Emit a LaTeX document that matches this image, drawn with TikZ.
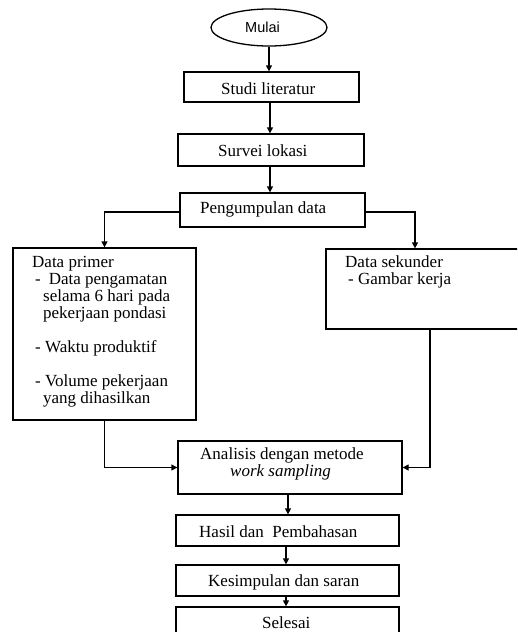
\documentclass[tikz,border=0pt]{standalone}
\usepackage{fontspec}
\setmainfont{Liberation Serif}
\newfontfamily\arialfont{Liberation Sans}
\usetikzlibrary{arrows.meta,shapes.geometric}
\begin{document}
\begin{tikzpicture}[x=1pt,y=-1pt,
  box/.style={draw,line width=1.3pt,rectangle,inner sep=0pt},
  conn/.style={line width=1.3pt,-{Triangle[length=6pt,width=6pt]}},
  txt/.style={inner sep=0pt,font=\fontsize{17}{17}\selectfont,anchor=base west},
  blk/.style={inner sep=0pt,font=\fontsize{17}{17}\selectfont,align=left,anchor=north west}]
\useasboundingbox (0,0) rectangle (517,632);
\clip (0,0) rectangle (517,632);
\fill[white] (0,0) rectangle (517,632);
% boxes
\node[draw,line width=1.3pt,ellipse,inner sep=0pt,minimum width=116pt,minimum height=37pt] (mulai) at (269,27.5) {};
\node[box,minimum width=175pt,minimum height=30pt] (studi) at (271.5,87) {};
\node[box,minimum width=186pt,minimum height=32pt] (survei) at (271,150) {};
\node[box,minimum width=185pt,minimum height=34pt] (peng) at (272.5,210) {};
\node[box,minimum width=183pt,minimum height=172pt] (primer) at (104.5,334) {};
\node[box,minimum width=204pt,minimum height=80pt] (sekunder) at (428,289) {};
\node[box,minimum width=224pt,minimum height=53pt] (analisis) at (290,467.5) {};
\node[box,minimum width=223pt,minimum height=31pt] (hasil) at (287.5,530.5) {};
\node[box,minimum width=223pt,minimum height=31pt] (kesim) at (287.5,580.5) {};
\node[box,minimum width=223pt,minimum height=43pt] (selesai) at (287.5,628.5) {};
% texts
\node[inner sep=0pt,font=\arialfont\fontsize{14.5}{14.5}\selectfont,anchor=base west] (tmulai) at (245,32) {Mulai};
\node[txt] (tstudi) at (221,94) {Studi literatur};
\node[txt] (tsurvei) at (218,156) {Survei lokasi};
\node[txt] (tpeng) at (200,213) {Pengumpulan data};
\node[blk] (tprimer) at (32,256.5) {Data primer\\
\hspace*{3pt}-\hspace*{8pt}Data pengamatan\\
\hspace*{11pt}selama 6 hari pada\\
\hspace*{11pt}pekerjaan pondasi\\[17pt]
\hspace*{3pt}- Waktu produktif\\[17pt]
\hspace*{3pt}- Volume pekerjaan\\
\hspace*{11pt}yang dihasilkan};
\node[blk] (tsekunder) at (345,255.5) {Data sekunder\\
\hspace*{3pt}- Gambar kerja};
\node[txt] (tanal1) at (200,459) {Analisis dengan metode};
\node[txt] (tanal2) at (230,476) {\itshape work sampling};
\node[txt] (thasil) at (199,537) {Hasil dan\ \ Pembahasan};
\node[txt] (tkesim) at (208,586) {Kesimpulan dan saran};
\node[txt] (tselesai) at (262,628) {Selesai};
% connectors
\draw[conn] (mulai.south) -- (mulai.south |- studi.north);
\draw[conn] (studi.south) ++(-1.5,0) coordinate (s1) -- (s1 |- survei.north);
\draw[conn] (survei.south) ++(-1,0) coordinate (s2) -- (s2 |- peng.north);
\draw[conn] ([yshift=-2pt]peng.west) -| (primer.north);
\draw[conn] ([yshift=-2pt]peng.east) -| ([xshift=-13pt]sekunder.north);
\draw[conn] (primer.south) |- (analisis.west);
\draw[conn] ([xshift=2pt]sekunder.south) |- (analisis.east);
\draw[conn] ([xshift=-2pt]analisis.south) -- ([xshift=-2pt]analisis.south |- hasil.north);
\draw[conn] ([xshift=-1.5pt]hasil.south) -- ([xshift=-1.5pt]hasil.south |- kesim.north);
\draw[conn] ([xshift=-1.5pt]kesim.south) -- ([xshift=-1.5pt]kesim.south |- selesai.north);
\end{tikzpicture}
\end{document}
